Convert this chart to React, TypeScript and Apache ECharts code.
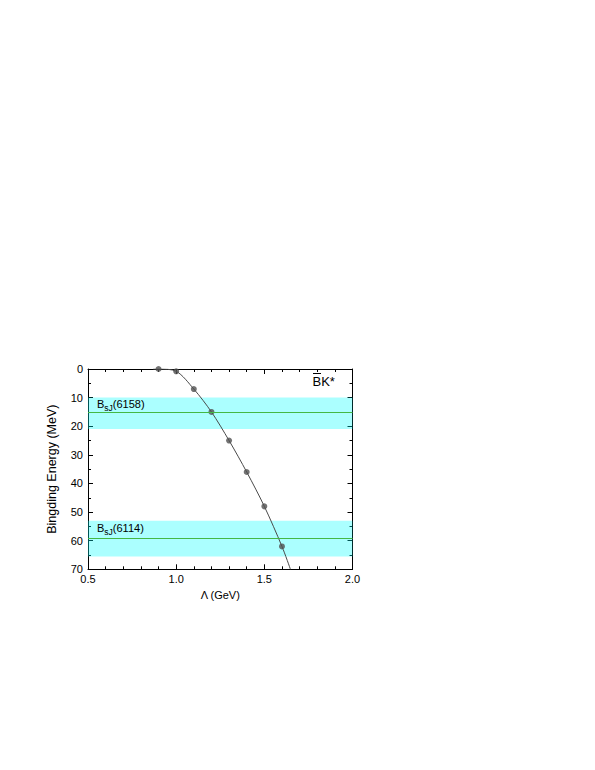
import React, { useEffect, useRef } from "react";
import * as echarts from "echarts";

const lambdaPoints = [0.9, 1.0, 1.1, 1.2, 1.3, 1.4, 1.5, 1.6];
const energyPoints = [0, 0.8, 7, 15, 25, 36, 48, 62];
const curveLambda = [0.87, 0.9, 1.0, 1.1, 1.2, 1.3, 1.4, 1.5, 1.6, 1.648];
const curveEnergy = [0, 0, 0.8, 7, 15, 25, 36, 48, 62, 70];
const bandRanges = [
  [10, 21],
  [53, 65.5],
];
const bandCenters = [15, 59];
const bandLabels = ["(6158)", "(6114)"];
const xTicks = { min: 0.5, max: 2.0, interval: 0.5 };
const yTicks = { min: 0, max: 70, interval: 10 };

const FONT = "'Liberation Sans', Arial, sans-serif";

export default function App() {
  const ref = useRef<HTMLDivElement>(null);
  useEffect(() => {
    if (!ref.current) return;
    const chart = echarts.init(ref.current, undefined, { renderer: "svg" });
    const axisCommon = {
      type: "value" as const,
      splitLine: { show: false },
      axisLine: { show: true, onZero: false, lineStyle: { color: "#000", width: 1 } },
      axisTick: { show: true, inside: true, length: 5, lineStyle: { color: "#000" } },
      minorTick: { show: true, length: 3, lineStyle: { color: "#000" } },
      minorSplitLine: { show: false },
    };
    const rich = {
      b: { fontSize: 11, fontFamily: FONT, color: "#000", lineHeight: 16, verticalAlign: "middle" },
      s: { fontSize: 8.5, fontFamily: FONT, color: "#000", lineHeight: 8, verticalAlign: "bottom" },
    };
    const labelYs = [404, 528];
    chart.setOption({
      animation: false,
      textStyle: { fontFamily: FONT },
      grid: { left: 88, top: 369, right: 242.5, bottom: 200.7, containLabel: false },
      xAxis: [
        {
          ...axisCommon,
          ...xTicks,
          position: "bottom",
          minorTick: { ...axisCommon.minorTick, splitNumber: 5 },
          axisLabel: { color: "#000", fontSize: 11, margin: 4, formatter: (v: number) => v.toFixed(1) },
          name: "Λ (GeV)",
          nameLocation: "middle",
          nameGap: 20,
          nameTextStyle: { color: "#000", fontSize: 11, fontFamily: FONT },
        },
        {
          ...axisCommon,
          ...xTicks,
          position: "top",
          minorTick: { ...axisCommon.minorTick, splitNumber: 5 },
          axisLabel: { show: false },
        },
      ],
      yAxis: [
        {
          ...axisCommon,
          ...yTicks,
          inverse: true,
          position: "left",
          minorTick: { ...axisCommon.minorTick, splitNumber: 2 },
          axisLabel: { color: "#000", fontSize: 11, margin: 5 },
          name: "Bingding Energy (MeV)",
          nameLocation: "middle",
          nameGap: 30,
          nameTextStyle: { color: "#000", fontSize: 12.5, fontFamily: FONT },
        },
        {
          ...axisCommon,
          ...yTicks,
          inverse: true,
          position: "right",
          minorTick: { ...axisCommon.minorTick, splitNumber: 2 },
          axisLabel: { show: false },
        },
      ],
      series: [
        {
          type: "line",
          z: 2,
          data: curveLambda.map((x, i) => [x, curveEnergy[i]]),
          smooth: 0.3,
          symbol: "none",
          clip: true,
          lineStyle: { color: "#4a4a4a", width: 1 },
        },
        {
          type: "scatter",
          z: 3,
          clip: true,
          data: lambdaPoints.map((x, i) => [x, energyPoints[i]]),
          symbolSize: 6,
          itemStyle: { color: "#505050" },
        },
        {
          type: "line",
          z: 4,
          data: [],
          markArea: {
            silent: true,
            itemStyle: { color: "rgba(0,255,255,0.33)" },
            data: bandRanges.map(([a, b]) => [{ yAxis: a }, { yAxis: b }]),
          },
        },
        {
          type: "line",
          z: 5,
          data: [],
          markLine: {
            silent: true,
            symbol: "none",
            label: { show: false },
            lineStyle: { color: "#44b844", width: 1.2, type: "solid" },
            data: bandCenters.map((v) => ({ yAxis: v })),
          },
        },
      ],
      graphic: [
        ...bandLabels.map((t, i) => ({
          type: "text",
          x: 97,
          y: labelYs[i],
          z: 10,
          style: {
            text: `{b|B}{s|sJ}{b|${t}}`,
            rich,
            verticalAlign: "middle",
            align: "left",
          },
        })),
        {
          type: "text",
          x: 312.5,
          y: 381,
          z: 10,
          style: { text: "BK*", fontSize: 13, fontFamily: FONT, fill: "#000", verticalAlign: "middle", align: "left" },
        },
        {
          type: "line",
          z: 10,
          shape: { x1: 313, y1: 373.5, x2: 321, y2: 373.5 },
          style: { stroke: "#000", lineWidth: 1 },
        },
      ],
    });
    return () => chart.dispose();
  }, []);
  return (
    <div
      ref={ref}
      style={{ position: "absolute", left: 0, top: 0, width: 595, height: 770 }}
    />
  );
}
